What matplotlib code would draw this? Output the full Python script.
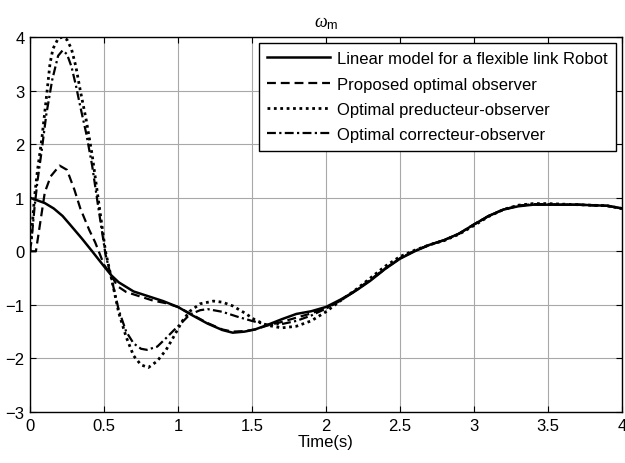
import matplotlib
matplotlib.use('Agg')
import matplotlib.pyplot as plt

plt.rcParams['font.family'] = ['Liberation Sans', 'DejaVu Sans']
plt.rcParams['mathtext.fontset'] = 'custom'
plt.rcParams['mathtext.rm'] = 'Liberation Sans'
plt.rcParams['mathtext.it'] = 'Liberation Serif:italic'

# series labels
labels = ['Linear model for a flexible link Robot',
          'Proposed optimal observer',
          'Optimal preducteur-observer',
          'Optimal correcteur-observer']

# linear model (reference)
t_model = [0, 0.1, 0.16, 0.22, 0.27, 0.35, 0.42, 0.5, 0.55, 0.6, 0.7, 0.8, 0.9,
           1.0, 1.1, 1.2, 1.3, 1.37, 1.45, 1.52, 1.6, 1.7, 1.8, 1.9, 2.0, 2.1,
           2.2, 2.3, 2.4, 2.5, 2.6, 2.7, 2.8, 2.9, 3.0, 3.1, 3.2, 3.3, 3.4, 3.5,
           3.6, 3.7, 3.8, 3.9, 4.0]
w_model = [1.0, 0.9, 0.8, 0.66, 0.5, 0.24, 0.0, -0.28, -0.45, -0.58, -0.75, -0.84,
           -0.93, -1.04, -1.2, -1.35, -1.47, -1.52, -1.5, -1.46, -1.38, -1.27,
           -1.17, -1.12, -1.04, -0.9, -0.74, -0.55, -0.33, -0.14, 0.0, 0.12,
           0.21, 0.33, 0.5, 0.66, 0.78, 0.84, 0.87, 0.87, 0.87, 0.87, 0.86,
           0.85, 0.8]

# proposed optimal observer
t_prop = [0, 0.04, 0.07, 0.1, 0.14, 0.2, 0.25, 0.3, 0.34, 0.4, 0.44, 0.5, 0.55,
          0.59, 0.65, 0.74, 0.83, 0.92, 1.0, 1.1, 1.2, 1.3, 1.37, 1.45, 1.52,
          1.6, 1.7, 1.8, 1.9, 2.0, 2.1, 2.2, 2.3, 2.4, 2.5, 2.6, 2.7, 2.8, 2.9,
          3.0, 3.1, 3.2, 3.3, 3.4, 3.5, 3.6, 3.7, 3.8, 3.9, 4.0]
w_prop = [0, 0.0, 0.55, 1.1, 1.4, 1.6, 1.52, 1.15, 0.8, 0.4, 0.17, -0.25, -0.45,
          -0.65, -0.76, -0.84, -0.92, -0.97, -1.04, -1.19, -1.34, -1.46, -1.5,
          -1.49, -1.46, -1.39, -1.32, -1.24, -1.16, -1.06, -0.91, -0.73, -0.53,
          -0.32, -0.13, 0.01, 0.12, 0.21, 0.33, 0.5, 0.66, 0.78, 0.85, 0.88,
          0.88, 0.87, 0.87, 0.86, 0.85, 0.8]

# optimal preducteur-observer
t_pred = [0, 0.01, 0.03, 0.05, 0.08, 0.11, 0.135, 0.155, 0.19, 0.22, 0.25, 0.28,
          0.31, 0.34, 0.38, 0.42, 0.46, 0.51, 0.55, 0.6, 0.65, 0.7, 0.75, 0.8,
          0.86, 0.92, 0.97, 1.03, 1.08, 1.15, 1.24, 1.3, 1.37, 1.45, 1.52, 1.6,
          1.7, 1.8, 1.9, 2.0, 2.1, 2.2, 2.3, 2.4, 2.5, 2.6, 2.7, 2.8, 2.9, 3.0,
          3.1, 3.2, 3.3, 3.4, 3.5, 3.6, 3.7, 3.8, 3.9, 4.0]
w_pred = [0, 0.3, 1.0, 1.5, 2.1, 2.85, 3.5, 3.78, 3.97, 4.0, 3.95, 3.78, 3.45,
          3.0, 2.45, 1.8, 1.0, 0.0, -0.5, -1.15, -1.6, -1.95, -2.12, -2.17,
          -2.05, -1.84, -1.6, -1.3, -1.12, -0.98, -0.93, -0.95, -1.02, -1.15,
          -1.28, -1.38, -1.43, -1.4, -1.3, -1.13, -0.92, -0.72, -0.5, -0.28,
          -0.1, 0.02, 0.12, 0.2, 0.32, 0.48, 0.65, 0.78, 0.86, 0.89, 0.89,
          0.88, 0.87, 0.86, 0.85, 0.8]

# optimal correcteur-observer
t_corr = [0, 0.01, 0.03, 0.05, 0.08, 0.11, 0.15, 0.19, 0.22, 0.25, 0.28, 0.31,
          0.34, 0.38, 0.42, 0.46, 0.51, 0.55, 0.6, 0.65, 0.7, 0.75, 0.79, 0.86,
          0.92, 0.97, 1.03, 1.08, 1.15, 1.2, 1.3, 1.4, 1.5, 1.6, 1.7, 1.8, 1.9,
          2.0, 2.1, 2.2, 2.3, 2.4, 2.5, 2.6, 2.7, 2.8, 2.9, 3.0, 3.1, 3.2, 3.3,
          3.4, 3.5, 3.6, 3.7, 3.8, 3.9, 4.0]
w_corr = [0, 0.2, 0.8, 1.3, 1.9, 2.55, 3.2, 3.65, 3.75, 3.68, 3.45, 3.1, 2.7,
          2.2, 1.6, 0.85, -0.05, -0.5, -1.1, -1.5, -1.72, -1.82, -1.84, -1.78,
          -1.62, -1.48, -1.32, -1.18, -1.1, -1.08, -1.13, -1.22, -1.3, -1.37,
          -1.36, -1.3, -1.2, -1.07, -0.92, -0.74, -0.54, -0.33, -0.13, 0.01,
          0.12, 0.21, 0.33, 0.5, 0.66, 0.78, 0.85, 0.88, 0.87, 0.87, 0.87,
          0.86, 0.85, 0.8]

x_ticks = [0, 0.5, 1, 1.5, 2, 2.5, 3, 3.5, 4]
x_ticklabels = ['0', '0.5', '1', '1.5', '2', '2.5', '3', '3.5', '4']
y_ticks = [-3, -2, -1, 0, 1, 2, 3, 4]

fig = plt.figure(figsize=(6.25, 4.64), dpi=100)
ax = fig.add_axes([0.048, 0.11, 0.947, 0.808])

ax.plot(t_model, w_model, color='black', lw=1.8, ls='-', label=labels[0])
ax.plot(t_prop, w_prop, color='black', lw=1.6, ls=(0, (4, 2.2)), label=labels[1])
ax.plot(t_pred, w_pred, color='black', lw=2.0, ls=(0, (1, 1.3)), label=labels[2])
ax.plot(t_corr, w_corr, color='black', lw=1.6, ls=(0, (4, 1.5, 1, 1.5)), label=labels[3])

ax.set_xlim(0, 4)
ax.set_ylim(-3, 4)
ax.set_xticks(x_ticks)
ax.set_xticklabels(x_ticklabels)
ax.set_yticks(y_ticks)
ax.tick_params(direction='in', top=True, right=True, length=4, width=0.8,
               labelsize=12, pad=4)
ax.grid(True, color='#a8a8a8', lw=0.8)
for s in ax.spines.values():
    s.set_linewidth(1.0)

ax.set_xlabel('Time(s)', fontsize=12, labelpad=1)
ax.set_title(r'$\mathit{\omega}_{\rm m}$', fontsize=13, pad=8)

leg = ax.legend(loc='upper right', fontsize=12, handlelength=3.8,
                labelspacing=0.62, borderaxespad=0.35, fancybox=False,
                framealpha=1, edgecolor='black', handletextpad=0.4,
                borderpad=0.5)
leg.get_frame().set_linewidth(1.0)

fig.savefig('out.png', dpi=100)
